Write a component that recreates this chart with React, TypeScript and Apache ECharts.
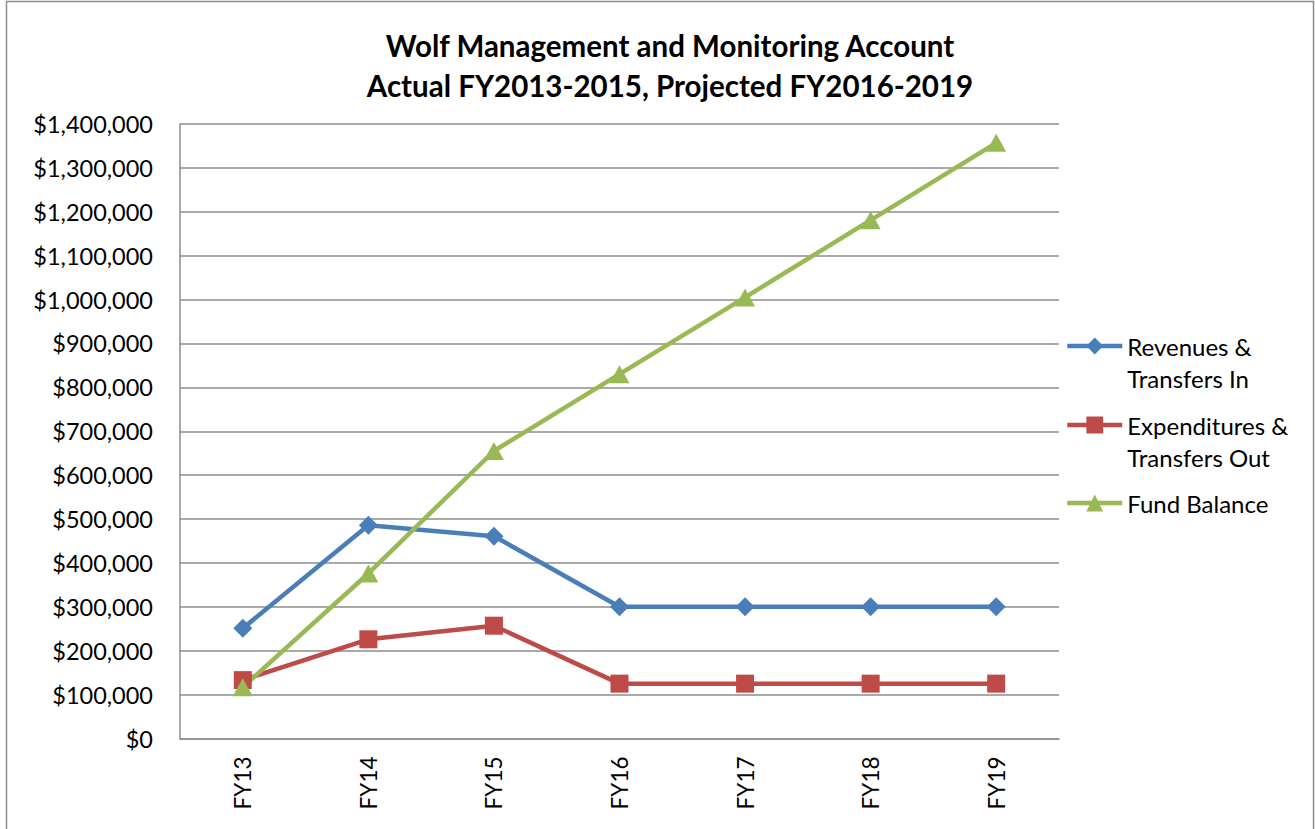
import React, { useEffect, useRef } from "react";
import * as echarts from "echarts";

const categories = ["FY13", "FY14", "FY15", "FY16", "FY17", "FY18", "FY19"];
const revenues = [251000, 486000, 461000, 300000, 300000, 300000, 300000];
const expenditures = [133000, 226000, 257000, 125000, 125000, 125000, 125000];
const fundBalance = [117000, 376000, 655000, 830000, 1005000, 1181000, 1357000];
const seriesNames = ["Revenues &\nTransfers In", "Expenditures &\nTransfers Out", "Fund Balance"];
const titleLines = ["Wolf Management and Monitoring Account", "Actual FY2013-2015, Projected FY2016-2019"];

const FONT = "Lato, 'Open Sans', sans-serif";

export default function App() {
  const ref = useRef<HTMLDivElement>(null);
  useEffect(() => {
    if (!ref.current) return;
    const chart = echarts.init(ref.current, null, { renderer: "svg" });
    const colors = ["#4A7EBB", "#BE4B48", "#98B954"];
    const iconCenters = [346, 425, 503];
    const mk = (name: string, data: number[], color: string, symbol: string, size: any) => ({
      name,
      type: "line",
      data,
      symbol,
      symbolSize: size,
      showSymbol: true,
      lineStyle: { color, width: 4.5 },
      itemStyle: { color },
    });
    chart.setOption({
      animation: false,
      textStyle: { fontFamily: FONT },
      title: {
        text: titleLines.join("\n"),
        left: 670,
        textAlign: "center",
        top: 25,
        padding: 0,
        textStyle: { fontFamily: FONT, fontWeight: "bold", fontSize: 29.5, lineHeight: 40.5, color: "#000" },
      },
      graphic: [
        {
          type: "rect",
          shape: { x: 6.5, y: 1.5, width: 1307, height: 840 },
          style: { fill: "none", stroke: "#8c8c8c", lineWidth: 1.5 },
          silent: true,
        },
      ],
      legend: seriesNames.map((n, i) => {
        const multi = n.includes("\n");
        return {
          data: [n],
          orient: "vertical",
          left: 1065,
          top: iconCenters[i] - (multi ? 48 : 16),
          padding: 0,
          itemWidth: 55,
          itemHeight: 21,
          itemGap: 0,
          lineStyle: { width: 4.5 },
          formatter: (name: string) => (name.includes("\n") ? " \n" + name : name),
          textStyle: { fontFamily: FONT, fontSize: 24, lineHeight: 32, color: "#000" },
        };
      }),
      grid: { left: 180, right: 256, top: 124, bottom: 90.5, containLabel: false },
      xAxis: {
        type: "category",
        data: categories,
        boundaryGap: true,
        axisLine: { lineStyle: { color: "#8c8c8c", width: 1.5 } },
        axisTick: { show: false },
        axisLabel: { rotate: 90, margin: 18, fontSize: 22.5, color: "#000", fontFamily: FONT },
      },
      yAxis: {
        type: "value",
        min: 0,
        max: 1400000,
        interval: 100000,
        axisLine: { show: true, lineStyle: { color: "#8c8c8c", width: 1.5 } },
        axisTick: { show: false },
        splitLine: { lineStyle: { color: "#8c8c8c", width: 1.5 } },
        axisLabel: {
          margin: 27,
          fontSize: 23.5,
          color: "#000",
          fontFamily: FONT,
          formatter: (v: number) => "$" + v.toLocaleString("en-US"),
        },
      },
      series: [
        mk(seriesNames[0], revenues, colors[0], "diamond", 19),
        mk(seriesNames[1], expenditures, colors[1], "rect", 18),
        mk(seriesNames[2], fundBalance, colors[2], "triangle", [20, 18]),
      ],
    });
    return () => chart.dispose();
  }, []);
  return (
    <div
      ref={ref}
      style={{ position: "fixed", left: 0, top: 0, width: 1315, height: 829, background: "#fff" }}
    />
  );
}
